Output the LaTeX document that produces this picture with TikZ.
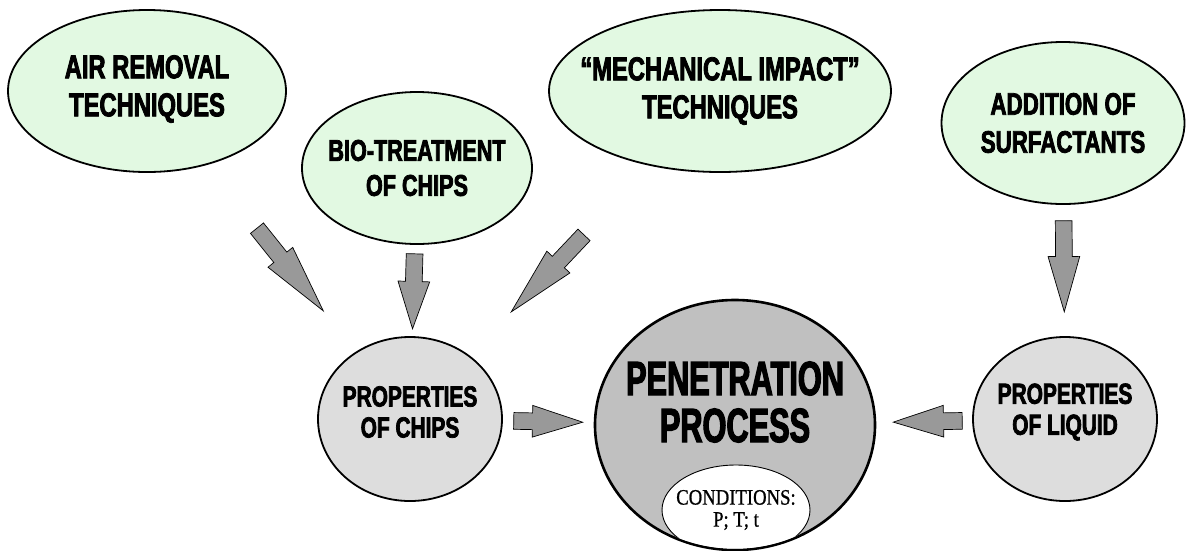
\documentclass[tikz,border=0pt]{standalone}
\usepackage{fontspec}
\usetikzlibrary{shapes.geometric}
\usetikzlibrary{shapes.arrows}
\newfontfamily\impactfont[FakeStretch=0.72, FakeBold=2.5]{Liberation Sans}
\newfontfamily\impactnarrow[FakeStretch=0.64, FakeBold=2.5]{Liberation Sans}
\newfontfamily\condfont[FakeStretch=0.85, FakeBold=0.8]{Liberation Serif}
\definecolor{bubble-green}{RGB}{226, 249, 226}
\definecolor{bubble-grey}{RGB}{221, 221, 221}
\definecolor{core-grey}{RGB}{192, 192, 192}
\definecolor{arrow-grey}{RGB}{153, 153, 153}

\begin{document}
\begin{tikzpicture}[x=1pt, y=-1pt,
    bubble/.style={ellipse, draw=black, line width=1.8pt, inner sep=0pt},
    greenbubble/.style={bubble, fill=bubble-green},
    greybubble/.style={bubble, fill=bubble-grey},
    bubbletext/.style 2 args={align=center, inner sep=0pt, font=\impactfont\bfseries\fontsize{#1}{#2}\selectfont},
    fatarrow/.style={single arrow, draw=black, fill=arrow-grey, line width=0.7pt, inner sep=0pt,
        text height=16pt, text depth=0pt, minimum width=1pt, single arrow head extend=7.5pt,
        sloped, allow upside down, anchor=tip}]
            \useasboundingbox (0,0) rectangle (1186,550);

\node[greenbubble, minimum width=278, minimum height=162,
    label={[bubbletext={33}{38}, yshift=2pt]center:AIR REMOVAL\\TECHNIQUES}] (air) at (147,91) {};
\node[greenbubble, minimum width=230, minimum height=152,
    label={[bubbletext={30}{35}]center:BIO-TREATMENT\\OF CHIPS}] (bio) at (417,168) {};
\node[greenbubble, minimum width=342, minimum height=162,
    label={[bubbletext={33}{38}]center:“MECHANICAL IMPACT”\\TECHNIQUES}] (mech) at (720,91) {};
\node[greenbubble, minimum width=243, minimum height=162,
    label={[bubbletext={31}{38}]center:ADDITION OF\\SURFACTANTS}] (surf) at (1063,123) {};

\node[greybubble, minimum width=184, minimum height=164,
    label={[bubbletext={29}{31}, yshift=7pt]center:PROPERTIES\\OF CHIPS}] (chips) at (410,419) {};
\node[greybubble, minimum width=184, minimum height=164,
    label={[bubbletext={29}{31}, yshift=7pt]center:PROPERTIES\\OF LIQUID}] (liquid) at (1065,419) {};

\node[bubble, fill=core-grey, line width=2.6pt, minimum width=280, minimum height=250,
    label={[align=center, inner sep=0pt, yshift=23pt,
        font=\impactnarrow\bfseries\fontsize{48}{47}\selectfont]center:PENETRATION\\PROCESS}] (pen) at (735,425) {};
\begin{scope}
\clip (pen.center) ellipse [x radius=138.7, y radius=123.7];
\node[ellipse, draw=black, fill=white, line width=0.9pt, inner sep=0pt, minimum width=148, minimum height=90,
    label={[align=center, inner sep=0pt, font=\condfont\fontsize{22}{22}\selectfont]center:CONDITIONS:\\P; T; t}] (cond) at (736,510) {};
\end{scope}

\path (air.center) -- node[fatarrow, minimum height=106pt, single arrow tip angle=26, pos=0.674] (airarrow) {} (chips.center);
\path (bio.center) -- node[fatarrow, minimum height=75pt, single arrow tip angle=37, pos=0.645] (bioarrow) {} (chips.center);
\path (mech.center) -- node[fatarrow, minimum height=106pt, single arrow tip angle=26, pos=0.677] (mecharrow) {} (chips.center);
\path (surf.center) -- node[fatarrow, minimum height=91pt, single arrow tip angle=32, pos=0.642] (surfarrow) {} (liquid.center);
\path (chips.center) -- node[fatarrow, minimum height=69pt, single arrow tip angle=35, pos=0.535] (chipsarrow) {} (pen.center);
\path (liquid.center) -- node[fatarrow, minimum height=69pt, single arrow tip angle=35, pos=0.524] (liquidarrow) {} (pen.center);

            \end{tikzpicture}
\end{document}
